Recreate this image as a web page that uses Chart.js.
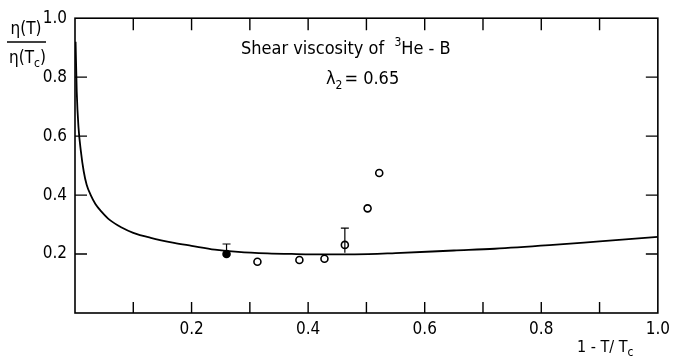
<!DOCTYPE html>
<html>
<head>
<meta charset="utf-8">
<script src="https://cdn.jsdelivr.net/npm/chart.js@4"></script>
<style>
  html, body { margin: 0; padding: 0; background: #fff; }
  #wrap { width: 676px; height: 362px; }
</style>
</head>
<body>
<div id="wrap"><canvas id="etaChart" width="676" height="362"></canvas></div>
<script>
// theory curve, eta(T)/eta(Tc) vs 1 - T/Tc
const curveT = [0.001, 0.003, 0.006, 0.01, 0.015, 0.02, 0.027, 0.035, 0.045, 0.06, 0.08,
  0.1, 0.13, 0.17, 0.2, 0.24, 0.28, 0.33, 0.38, 0.43, 0.48, 0.55, 0.65, 0.72, 0.82, 0.9, 1.0];
const curveEta = [0.92, 0.75, 0.63, 0.55, 0.48, 0.435, 0.4, 0.37, 0.345, 0.315, 0.29,
  0.272, 0.255, 0.238, 0.228, 0.215, 0.207, 0.202, 0.2, 0.199, 0.199, 0.203, 0.212, 0.218, 0.231, 0.243, 0.258];

// measured points
const dataT = [0.26, 0.313, 0.385, 0.428, 0.463, 0.502, 0.522];
const dataEta = [0.2, 0.174, 0.18, 0.184, 0.231, 0.355, 0.475];
const errHigh = [0.234, null, null, null, 0.288, null, null];
const errLow = [0.188, null, null, null, 0.204, null, null];
const filled = [true, false, false, false, false, false, false];

const xTicks = [0.2, 0.4, 0.6, 0.8, 1.0];
const yTicks = [0.2, 0.4, 0.6, 0.8, 1.0];

const FONT = "'DejaVu Sans Condensed', 'Liberation Sans Narrow', 'DejaVu Sans', sans-serif";

const framePlugin = {
  id: "frame",
  afterDraw(chart) {
    const { ctx, chartArea: a, scales } = chart;
    const xs = scales.x, ys = scales.y;
    ctx.save();
    ctx.strokeStyle = "#000";
    ctx.lineWidth = 1.6;
    ctx.strokeRect(a.left, a.top, a.right - a.left, a.bottom - a.top);

    // inward ticks
    ctx.lineWidth = 1.4;
    ctx.beginPath();
    for (let i = 1; i < 10; i++) {
      const px = xs.getPixelForValue(i / 10);
      ctx.moveTo(px, a.bottom); ctx.lineTo(px, a.bottom - 11);
      ctx.moveTo(px, a.top); ctx.lineTo(px, a.top + 12);
    }
    for (let i = 1; i < 5; i++) {
      const py = ys.getPixelForValue(i / 5);
      ctx.moveTo(a.left, py); ctx.lineTo(a.left + 12, py);
      ctx.moveTo(a.right, py); ctx.lineTo(a.right - 12, py);
    }
    ctx.stroke();

    // error bars
    ctx.lineWidth = 1.2;
    ctx.beginPath();
    dataT.forEach((t, i) => {
      if (errHigh[i] == null) return;
      const px = xs.getPixelForValue(t);
      const hi = ys.getPixelForValue(errHigh[i]);
      const lo = ys.getPixelForValue(errLow[i]);
      ctx.moveTo(px, lo); ctx.lineTo(px, hi);
      ctx.moveTo(px - 4, hi); ctx.lineTo(px + 4, hi);
    });
    ctx.stroke();

    // y axis title as fraction
    ctx.fillStyle = "#000";
    ctx.font = "17px " + FONT;
    ctx.textAlign = "center";
    ctx.textBaseline = "alphabetic";
    ctx.fillText("η(T)", 26, 34);
    ctx.beginPath();
    ctx.lineWidth = 1.6;
    ctx.moveTo(7, 42); ctx.lineTo(46, 42);
    ctx.stroke();
    ctx.textAlign = "left";
    ctx.fillText("η(T", 9, 63);
    const w1 = ctx.measureText("η(T").width;
    ctx.font = "12px " + FONT;
    ctx.fillText("c", 9 + w1, 67);
    const w2 = ctx.measureText("c").width;
    ctx.font = "17px " + FONT;
    ctx.fillText(")", 9 + w1 + w2, 63);

    // x axis title
    ctx.font = "16px " + FONT;
    ctx.fillText("1 - T/ T", 577, 352);
    const w3 = ctx.measureText("1 - T/ T").width;
    ctx.font = "12px " + FONT;
    ctx.fillText("c", 577 + w3, 356);

    // annotation
    ctx.font = "18px " + FONT;
    const line1 = "Shear viscosity of  ";
    ctx.fillText(line1, 241, 54);
    let x = 241 + ctx.measureText(line1).width;
    ctx.font = "12px " + FONT;
    ctx.fillText("3", x, 46);
    x += ctx.measureText("3").width;
    ctx.font = "18px " + FONT;
    ctx.fillText("He - B", x, 54);

    ctx.fillText("λ", 326, 84);
    let x2 = 326 + ctx.measureText("λ").width;
    ctx.font = "12px " + FONT;
    ctx.fillText("2", x2, 89);
    x2 += ctx.measureText("2").width + 2;
    ctx.font = "18px " + FONT;
    ctx.fillText("= 0.65", x2, 84);
    ctx.restore();
  }
};

new Chart(document.getElementById("etaChart").getContext("2d"), {
  type: "scatter",
  data: {
    datasets: [
      {
        label: "theory",
        data: curveT.map((t, i) => ({ x: t, y: curveEta[i] })),
        showLine: true,
        borderColor: "#000",
        borderWidth: 1.8,
        pointRadius: 0,
        cubicInterpolationMode: "monotone",
      },
      {
        label: "data",
        data: dataT.map((t, i) => ({ x: t, y: dataEta[i] })),
        pointRadius: 3.5,
        pointBorderWidth: 1.6,
        pointBorderColor: "#000",
        pointBackgroundColor: filled.map((f) => (f ? "#000" : "#fff")),
      },
    ],
  },
  plugins: [framePlugin],
  options: {
    responsive: false,
    animation: false,
    layout: { padding: { top: 14, right: 11, left: 0, bottom: 0 } },
    plugins: { legend: { display: false }, tooltip: { enabled: false } },
    scales: {
      x: {
        type: "linear",
        min: 0,
        max: 1,
        afterFit: (s) => { s.height = 49; },
        afterBuildTicks: (s) => { s.ticks = xTicks.map((v) => ({ value: v })); },
        grid: { display: false, drawTicks: false },
        border: { display: false },
        ticks: {
          color: "#000",
          font: { family: FONT, size: 17 },
          padding: 6,
          maxRotation: 0,
          callback: (v) => v.toFixed(1),
        },
      },
      y: {
        type: "linear",
        min: 0,
        max: 1,
        afterFit: (s) => { s.width = 75; },
        afterBuildTicks: (s) => { s.ticks = yTicks.map((v) => ({ value: v })); },
        grid: { display: false, drawTicks: false },
        border: { display: false },
        ticks: {
          color: "#000",
          font: { family: FONT, size: 17 },
          padding: 8,
          callback: (v) => v.toFixed(1),
        },
      },
    },
  },
});
</script>
</body>
</html>
